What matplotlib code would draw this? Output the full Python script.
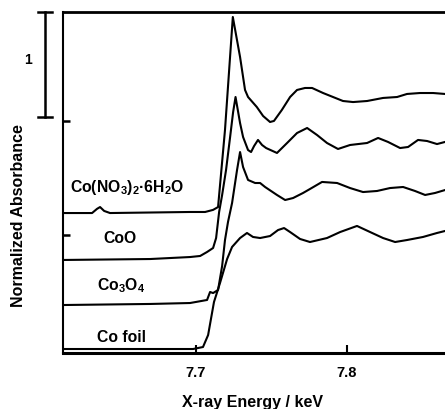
import matplotlib
matplotlib.use("Agg")
import matplotlib.pyplot as plt
import numpy as np

plt.rcParams["font.family"] = ["Liberation Sans", "DejaVu Sans"]
plt.rcParams["font.weight"] = "bold"
plt.rcParams["mathtext.fontset"] = "custom"
plt.rcParams["mathtext.rm"] = "Liberation Sans:bold"
plt.rcParams["mathtext.it"] = "Liberation Sans:bold"
plt.rcParams["mathtext.bf"] = "Liberation Sans:bold"
plt.rcParams["mathtext.default"] = "rm"

# Normalized Co K-edge XANES spectra (energy in keV), stacked with vertical offsets
e_nitrate = [7.612, 7.631, 7.6343, 7.6363, 7.6390, 7.6429, 7.6695, 7.696, 7.706, 7.7113,
             7.7146, 7.7192, 7.7244, 7.7292, 7.7325, 7.7345, 7.7403, 7.7445, 7.7491, 7.7517,
             7.7569, 7.7624, 7.7670, 7.7723, 7.7770, 7.7843, 7.7909, 7.7975, 7.8042, 7.8135,
             7.8241, 7.8334, 7.8400, 7.8486, 7.8573, 7.8652]
a_nitrate = [0.0, 0.0, 0.04, 0.057, 0.02, 0.0, 0.005, 0.01, 0.01, 0.03,
             0.057, 0.791, 1.867, 1.486, 1.172, 1.105, 1.010, 0.924, 0.867, 0.877,
             0.981, 1.105, 1.172, 1.191, 1.191, 1.143, 1.105, 1.067, 1.057, 1.067,
             1.096, 1.105, 1.134, 1.143, 1.143, 1.134]

e_coo = [7.612, 7.6695, 7.696, 7.7027, 7.7073, 7.7113, 7.7133, 7.7153, 7.7173, 7.7199,
         7.7226, 7.7246, 7.7262, 7.7292, 7.7312, 7.7345, 7.7365, 7.7385, 7.7411, 7.7438,
         7.7465, 7.7537, 7.7604, 7.7670, 7.7737, 7.7803, 7.7869, 7.7942, 7.8022, 7.8135,
         7.8208, 7.8274, 7.8354, 7.8407, 7.8473, 7.8533, 7.8599, 7.8652]
a_coo = [0.0, 0.009, 0.028, 0.038, 0.076, 0.114, 0.209, 0.457, 0.619, 0.857,
         1.171, 1.409, 1.552, 1.304, 1.171, 1.047, 1.028, 1.085, 1.143, 1.095,
         1.066, 1.019, 1.114, 1.209, 1.257, 1.190, 1.114, 1.057, 1.095, 1.114,
         1.162, 1.124, 1.066, 1.076, 1.143, 1.133, 1.104, 1.124]

e_co3o4 = [7.612, 7.6695, 7.696, 7.7073, 7.7093, 7.7113, 7.7146, 7.7173, 7.7192, 7.7212,
           7.7239, 7.7272, 7.7292, 7.7312, 7.7345, 7.7392, 7.7425, 7.7458, 7.7537, 7.7591,
           7.7644, 7.7710, 7.7756, 7.7836, 7.7936, 7.8022, 7.8108, 7.8201, 7.8287, 7.8374,
           7.8453, 7.8520, 7.8586, 7.8652]
a_co3o4 = [0.0, 0.010, 0.019, 0.048, 0.124, 0.114, 0.143, 0.372, 0.619, 0.791,
           0.972, 1.286, 1.457, 1.314, 1.191, 1.162, 1.162, 1.124, 1.048, 1.000,
           1.019, 1.067, 1.105, 1.172, 1.162, 1.114, 1.076, 1.086, 1.114, 1.124,
           1.086, 1.048, 1.067, 1.095]

e_foil = [7.612, 7.6695, 7.698, 7.7046, 7.7080, 7.7100, 7.7119, 7.7159, 7.7206, 7.7239,
          7.7292, 7.7338, 7.7378, 7.7425, 7.7491, 7.7544, 7.7584, 7.7624, 7.7690, 7.7756,
          7.7869, 7.7956, 7.8068, 7.8155, 7.8241, 7.8321, 7.8400, 7.8506, 7.8599, 7.8652]
a_foil = [0.0, 0.0, 0.0, 0.019, 0.133, 0.295, 0.448, 0.629, 0.857, 0.972,
          1.057, 1.105, 1.067, 1.057, 1.076, 1.133, 1.152, 1.114, 1.048, 1.019,
          1.057, 1.114, 1.172, 1.114, 1.057, 1.019, 1.038, 1.067, 1.105, 1.124]

sample_labels = ["Co(NO$_3$)$_2$·6H$_2$O", "CoO", "Co$_3$O$_4$", "Co foil"]
offsets = [1.333, 0.886, 0.457, 0.038]
label_x = [7.6545, 7.6496, 7.6500, 7.6502]
label_y = [1.529, 1.050, 0.593, 0.108]

xticks = [7.7, 7.8]
xticklabels = ["7.7", "7.8"]
yticks = [1.124, 2.205]

fig = plt.figure(figsize=(4.45, 4.09), dpi=100)
ax = fig.add_axes([63 / 445, 1 - 353 / 409, 1 - 63 / 445, (353 - 12) / 409])

spectra = [(e_nitrate, a_nitrate), (e_coo, a_coo), (e_co3o4, a_co3o4), (e_foil, a_foil)]
for (e, a), off in zip(spectra, offsets):
    ax.plot(e, np.array(a) + off, color="black", lw=1.5, solid_joinstyle="round")

for txt, x, y in zip(sample_labels, label_x, label_y):
    ax.text(x, y, txt, ha="center", va="baseline", fontsize=11.3, fontweight="bold")

ax.set_xlim(7.6117, 7.8652)
ax.set_ylim(0, 3.2476)

ax.spines["right"].set_visible(False)
ax.spines["top"].set_linewidth(2.0)
ax.spines["left"].set_linewidth(1.5)
ax.spines["bottom"].set_linewidth(2.2)

ax.set_xticks(xticks)
ax.set_xticklabels(xticklabels, fontsize=10.5, fontweight="bold")
ax.set_yticks(yticks)
ax.set_yticklabels([])
ax.tick_params(axis="x", direction="in", length=6, width=1.5, pad=9.5)
ax.tick_params(axis="y", direction="in", length=5, width=1.8)

# scale bar of one absorbance unit
sb_x = 7.600
sb_lo, sb_hi = 3.2476 - 1.0, 3.2476
cap = 0.0046
ax.plot([sb_x, sb_x], [sb_lo, sb_hi], color="black", lw=1.8, clip_on=False)
ax.plot([sb_x - cap, sb_x + cap], [sb_hi, sb_hi], color="black", lw=1.8, clip_on=False)
ax.plot([sb_x - cap, sb_x + cap], [sb_lo, sb_lo], color="black", lw=1.8, clip_on=False)
ax.text(7.5885, 2.79, "1", ha="center", va="center", fontsize=10, fontweight="bold")

fig.text(182 / 445, 2 / 409, "X-ray Energy / keV", ha="left", va="baseline",
         fontsize=11.5, fontweight="bold")
fig.text(23 / 445, (409 - 306.7) / 409, "Normalized Absorbance", rotation=90,
         rotation_mode="anchor", ha="left", va="baseline", fontsize=11.5, fontweight="bold")

fig.savefig("out.png", dpi=100)
